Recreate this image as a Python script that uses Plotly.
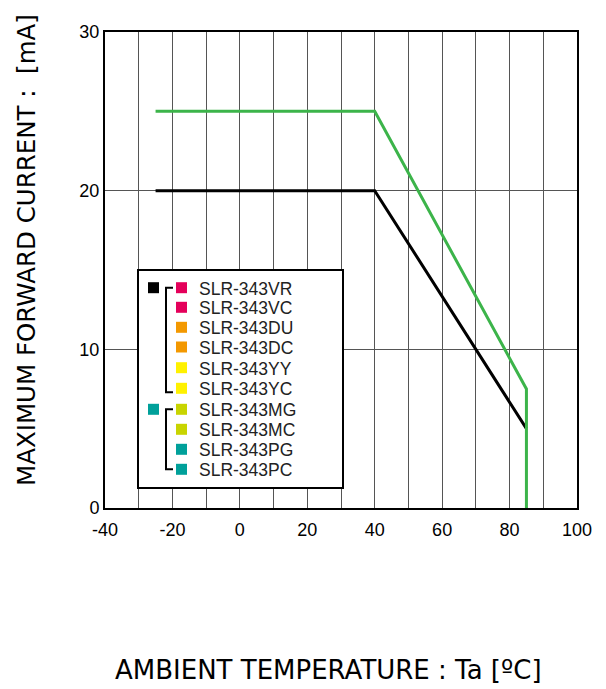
import plotly.graph_objects as go

# Data
temp_black = [-25, 40, 85]
current_black = [20, 20, 5]
temp_green = [-25, 40, 85, 85]
current_green = [25, 25, 7.5, 0]

legend_names = ["SLR-343VR", "SLR-343VC", "SLR-343DU", "SLR-343DC", "SLR-343YY",
                "SLR-343YC", "SLR-343MG", "SLR-343MC", "SLR-343PG", "SLR-343PC"]
legend_colors = ["#E4005A", "#E4005A", "#F39800", "#F39800", "#FFF100",
                 "#FFF100", "#C8D400", "#C8D400", "#00A09A", "#00A09A"]

x_ticks = [-40, -20, 0, 20, 40, 60, 80, 100]
y_ticks = [0, 10, 20, 30]

OFF = 8  # page body margin
W, H = 606 - OFF, 689 - OFF
L, R, T, B = 105 - OFF, 29, 32 - OFF, 181
PW, PH = W - L - R, H - T - B


def px(x):
    return (x - OFF - L) / PW


def py(y):
    return (H - B - (y - OFF)) / PH


fig = go.Figure()
fig.add_trace(go.Scatter(x=temp_black, y=current_black, mode="lines",
                         line=dict(color="black", width=3), showlegend=False))
fig.add_trace(go.Scatter(x=temp_green, y=current_green, mode="lines",
                         line=dict(color="#3CB44A", width=3), showlegend=False))

shapes = []
annotations = []
# legend box
shapes.append(dict(type="rect", xref="paper", yref="paper",
                   x0=px(138), x1=px(343), y0=py(488), y1=py(270),
                   line=dict(color="black", width=2), fillcolor="white", layer="above"))
row_y = [287.7, 307.3, 327.3, 347, 367.7, 388.3, 409.3, 429.3, 449.3, 469.3]
for name, col, ry in zip(legend_names, legend_colors, row_y):
    shapes.append(dict(type="rect", xref="paper", yref="paper",
                       x0=px(176), x1=px(187), y0=py(ry + 5.5), y1=py(ry - 5.5),
                       line=dict(width=0), fillcolor=col, layer="above"))
    annotations.append(dict(xref="paper", yref="paper", x=px(197), y=py(ry + 1),
                            text=name, showarrow=False, xanchor="left", yanchor="middle",
                            font=dict(family="Liberation Sans, Arial", size=17.5, color="#222")))
# group squares
for ry, col in [(row_y[0], "black"), (row_y[6], "#00A09A")]:
    shapes.append(dict(type="rect", xref="paper", yref="paper",
                       x0=px(148), x1=px(159), y0=py(ry + 5.5), y1=py(ry - 5.5),
                       line=dict(width=0), fillcolor=col, layer="above"))
# brackets
for y0, y1 in [(row_y[0], row_y[5] + 4), (row_y[6], row_y[9])]:
    shapes.append(dict(type="path", xref="paper", yref="paper",
                       path=f"M {px(173)},{py(y0)} L {px(166)},{py(y0)} L {px(166)},{py(y1)} L {px(173)},{py(y1)}",
                       line=dict(color="black", width=2), layer="above"))

annotations.append(dict(xref="paper", yref="paper", x=px(328), y=py(670),
                        text="AMBIENT TEMPERATURE : Ta [ºC]", showarrow=False,
                        xanchor="center", yanchor="middle",
                        font=dict(family="DejaVu Sans", size=26, color="black")))
annotations.append(dict(xref="paper", yref="paper", x=px(26), y=py(250),
                        text="MAXIMUM FORWARD CURRENT :  [mA]", showarrow=False, textangle=-90,
                        xanchor="center", yanchor="middle",
                        font=dict(family="DejaVu Sans", size=24.5, color="black")))

fig.update_layout(
    width=W, height=H,
    margin=dict(l=L, r=R, t=T, b=B),
    paper_bgcolor="white", plot_bgcolor="white",
    shapes=shapes, annotations=annotations,
    showlegend=False,
    xaxis=dict(range=[-40, 100], tickvals=x_ticks, ticktext=[str(v) for v in x_ticks],
               showgrid=True, gridcolor="#555", gridwidth=1,
               minor=dict(dtick=10, showgrid=True, gridcolor="#555", gridwidth=1),
               showline=True, linecolor="black", linewidth=2, mirror=True,
               zeroline=False, ticks="", ticklabelstandoff=4,
               tickfont=dict(family="Liberation Sans, Arial", size=18, color="black")),
    yaxis=dict(range=[0, 30], tickvals=y_ticks, ticktext=[str(v) for v in y_ticks],
               showgrid=True, gridcolor="#555", gridwidth=1,
               showline=True, linecolor="black", linewidth=2, mirror=True,
               zeroline=False, ticks="",
               tickfont=dict(family="Liberation Sans, Arial", size=18, color="black")),
)

fig.write_html("out.html")
